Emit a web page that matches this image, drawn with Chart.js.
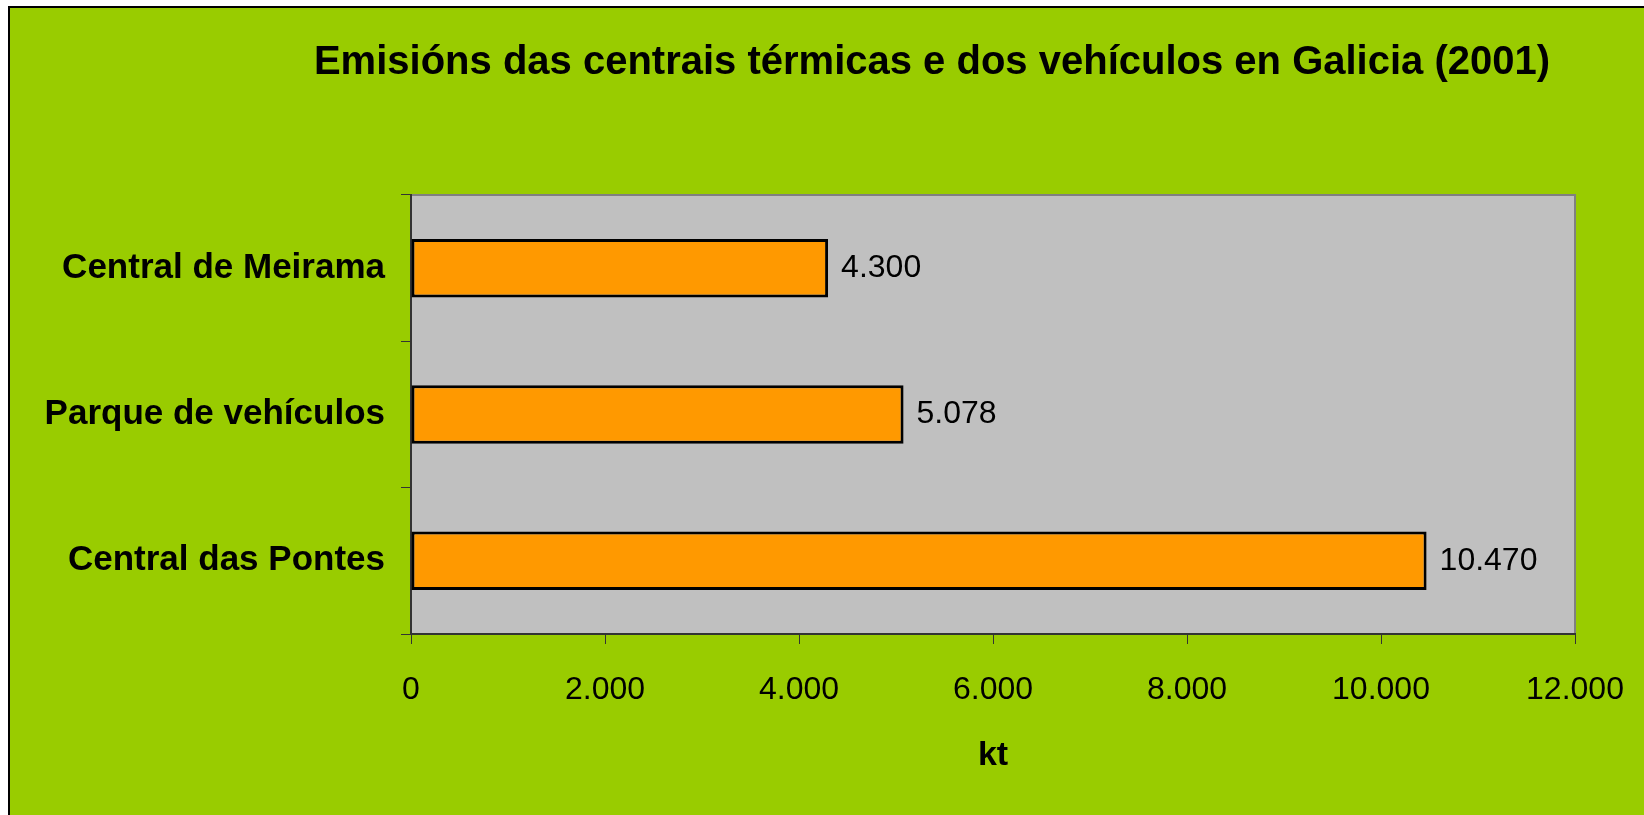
<!DOCTYPE html>
<html>
<head>
<meta charset="utf-8">
<title>Emisións das centrais térmicas e dos vehículos en Galicia (2001)</title>
<script src="https://cdn.jsdelivr.net/npm/chart.js@4/dist/chart.umd.min.js"></script>
<style>
    html, body { margin: 0; padding: 0; background: #fff; overflow: hidden; }
    #chart { position: absolute; left: 0; top: 0; }
</style>
</head>
<body>
<canvas id="chart" width="1644" height="815"></canvas>
<script>
// data
const chartTitle = "Emisións das centrais térmicas e dos vehículos en Galicia (2001)";
const categories = ["Central de Meirama", "Parque de vehículos", "Central das Pontes"];
const emissions = [4300, 5078, 10470];
const xTicks = [0, 2000, 4000, 6000, 8000, 10000, 12000];
const xTitle = "kt";

// 10470 -> "10.470"
function fmt(n) {
    return String(n).replace(/\B(?=(\d{3})+(?!\d))/g, ".");
}

Chart.defaults.font.family = '"Liberation Sans", Arial, sans-serif';
Chart.defaults.color = "#000";

// green page + grey plot box
const backdrop = {
    id: "backdrop",
    beforeDraw(chart) {
        const { ctx, chartArea: a } = chart;
        ctx.save();
        ctx.fillStyle = "#fff";
        ctx.fillRect(0, 0, chart.width, chart.height);
        ctx.fillStyle = "#99CC00";
        ctx.fillRect(9, 7, chart.width, chart.height);
        ctx.fillStyle = "#000";
        ctx.fillRect(8, 6, 2, chart.height);
        ctx.fillRect(8, 6, chart.width, 2);
        ctx.fillStyle = "#C0C0C0";
        ctx.fillRect(a.left, a.top, a.right - a.left, a.bottom - a.top);
        ctx.strokeStyle = "#808080";
        ctx.lineWidth = 2;
        ctx.strokeRect(a.left, a.top, a.right - a.left, a.bottom - a.top);
        ctx.restore();
    },
};

// title + value labels
const texts = {
    id: "texts",
    afterDatasetsDraw(chart) {
        const { ctx } = chart;
        ctx.save();
        ctx.fillStyle = "#000";
        ctx.textBaseline = "middle";
        ctx.textAlign = "left";
        ctx.font = '32px "Liberation Sans", Arial, sans-serif';
        chart.getDatasetMeta(0).data.forEach((bar, i) => {
            ctx.fillText(fmt(emissions[i]), bar.x + 13, bar.y);
        });
        ctx.textAlign = "center";
        ctx.font = 'bold 40px "Liberation Sans", Arial, sans-serif';
        ctx.fillText(chartTitle, 932, 63);
        ctx.restore();
    },
};

new Chart(document.getElementById("chart"), {
    type: "bar",
    data: {
        labels: categories,
        datasets: [
            {
                data: emissions,
                backgroundColor: "#FF9900",
                borderColor: "#000",
                borderWidth: 3,
                borderSkipped: false,
                categoryPercentage: 1,
                barPercentage: 0.4,
            },
        ],
    },
    options: {
        indexAxis: "y",
        responsive: false,
        animation: false,
        layout: { padding: { left: 9, top: 195, right: 69, bottom: 0 } },
        plugins: {
            legend: { display: false },
            tooltip: { enabled: false },
        },
        scales: {
            x: {
                min: 0,
                max: 12000,
                afterBuildTicks: (s) => {
                    s.ticks = xTicks.map((v) => ({ value: v }));
                },
                ticks: {
                    callback: (v) => fmt(v),
                    font: { size: 32 },
                    color: "#000",
                    padding: 27,
                    maxRotation: 0,
                },
                grid: {
                    drawOnChartArea: false,
                    tickLength: 10,
                    color: "#333",
                },
                border: { color: "#333", width: 2 },
                title: {
                    display: true,
                    text: xTitle,
                    font: { size: 34, weight: "bold" },
                    color: "#000",
                    padding: { top: 0, bottom: 39 },
                },
                afterFit: (s) => {
                    s.height = 181;
                    s.paddingLeft = 0;
                    s.paddingRight = 0;
                },
            },
            y: {
                ticks: {
                    font: { size: 35, weight: "bold" },
                    color: "#000",
                    padding: 16,
                },
                grid: {
                    drawOnChartArea: false,
                    offset: true,
                    tickLength: 10,
                    color: "#333",
                },
                border: { color: "#333", width: 2 },
                afterFit: (s) => {
                    s.width = 402;
                    s.paddingTop = 0;
                    s.paddingBottom = 0;
                },
            },
        },
    },
    plugins: [backdrop, texts],
});
</script>
</body>
</html>
